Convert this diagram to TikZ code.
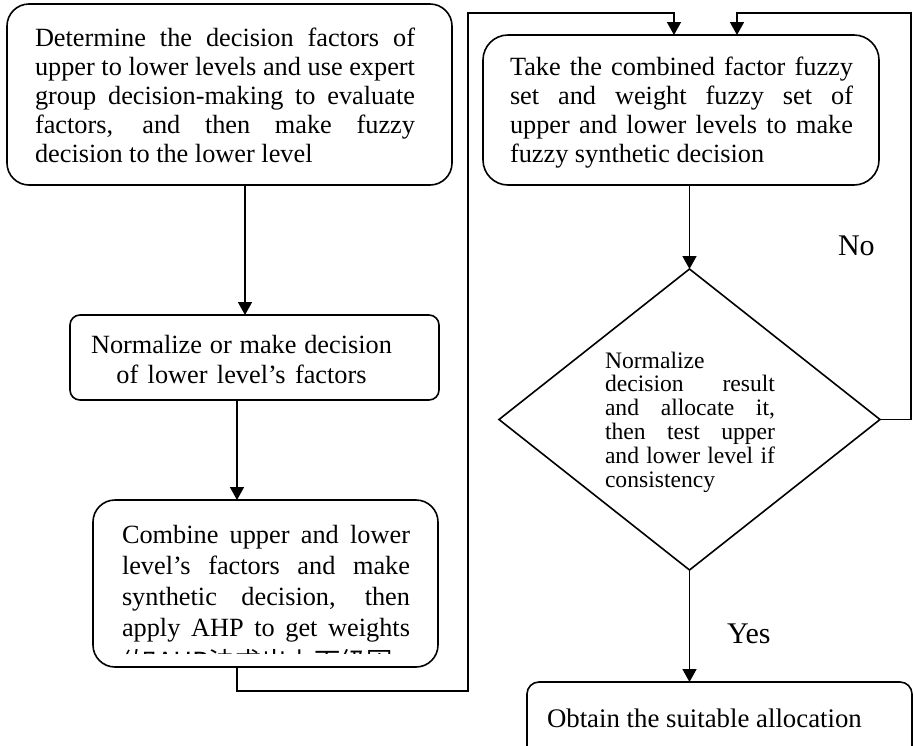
\documentclass[tikz,border=0pt]{standalone}
\usepackage{fontspec}
\setmainfont{Liberation Serif}
\newfontfamily\cjkfont{Noto Sans CJK SC}
\usetikzlibrary{arrows.meta,shapes.geometric}

% a line stretched to the full justified width
\newcommand{\fitline}[2]{\makebox[#1][s]{#2}}
% fixes the height of the first line of a text block
\newcommand{\firststrut}{\rule{0pt}{20pt}}
% use the font's own stretchable interword space
\newcommand{\fontspaces}{\spaceskip=0pt\relax\xspaceskip=0pt\relax}

\begin{document}
\begin{tikzpicture}[x=1pt,y=-1pt,
  every node/.style={inner sep=0pt, outer sep=0pt},
  box/.style={draw, line width=1.6pt, rounded corners=#1},
  box/.default=22pt,
  body/.style={anchor=north west, align=justify},
  arr/.style={line width=1.6pt, -{Triangle[length=13pt,width=14pt]}}]

\useasboundingbox (0,0) rectangle (913,745);

% process boxes and the decision diamond
\node[box=22pt, minimum width=445pt, minimum height=181pt] (b1) at (229.5,94.5) {};
\node[box=10pt, minimum width=369pt, minimum height=85pt] (b2) at (254.5,357.5) {};
\node[box=22pt, minimum width=345pt, minimum height=167pt] (b3) at (265.5,583.5) {};
\node[box=25pt, minimum width=396pt, minimum height=150pt] (b4) at (681,110) {};
\node[draw, diamond, line width=1.6pt, minimum width=381pt, minimum height=301pt] (dec) at (689.5,419.5) {};
\node[box=12pt, minimum width=385pt, minimum height=90pt] (b5) at (719.5,727) {};

% texts
\node[body, text width=380pt, font=\fontsize{26.3}{29.1}\selectfont] (t1) at (35,26.5)
  {\fontspaces\firststrut\fitline{380pt}{Determine the decision factors of}\\
   \fitline{380pt}{upper to lower levels and use expert}\\
   \fitline{380pt}{group decision-making to evaluate}\\
   \fitline{380pt}{factors, and then make fuzzy}\\
   \makebox[380pt][l]{decision to the lower level}};

\node[anchor=north, text width=340pt, align=center, font=\fontsize{26.3}{30}\selectfont] (t2) at (241.5,333)
  {\fontspaces\firststrut Normalize or make decision\\ of lower level’s factors};

\node[body, text width=288pt, font=\fontsize{26.3}{31}\selectfont] (t3) at (122,523.3)
  {\fontspaces\firststrut\fitline{288pt}{Combine upper and lower}\\
   \fitline{288pt}{level’s factors and make}\\
   \fitline{288pt}{synthetic decision, then}\\
   \fitline{288pt}{apply AHP to get weights}};

\begin{scope}
  \clip (93,640) rectangle (438,653);
  \node[anchor=base west, font=\fontsize{26.3}{31}\selectfont] (t3b) at (122,671)
    {\cjkfont (如AHP法求出上下级因};
\end{scope}

\node[body, text width=343pt, font=\fontsize{26.3}{29}\selectfont] (t4) at (510,55)
  {\fontspaces\firststrut\fitline{343pt}{Take the combined factor fuzzy}\\
   \fitline{343pt}{set and weight fuzzy set of}\\
   \fitline{343pt}{upper and lower levels to make}\\
   \makebox[343pt][l]{fuzzy synthetic decision}};

\node[body, text width=170pt, font=\fontsize{23.6}{23.8}\selectfont] (td) at (605,348)
  {\fontspaces\firststrut\makebox[170pt][l]{Normalize}\\
   \fitline{170pt}{decision result}\\
   \fitline{170pt}{and allocate it,}\\
   \fitline{170pt}{then test upper}\\
   \fitline{170pt}{and lower level if}\\
   \makebox[170pt][l]{consistency}};

\node[anchor=base west, font=\fontsize{26.8}{30}\selectfont] (t5) at (547,727) {Obtain the suitable allocation};

\node[anchor=base west, font=\fontsize{30}{30}\selectfont] (no) at (838,255) {No};
\node[anchor=base west, font=\fontsize{30}{30}\selectfont] (yes) at (727,643) {Yes};

% connectors
\coordinate (c1) at (468,691);
\coordinate (c2) at (468,13);
\coordinate (c3) at (911,13);

\draw[arr] ([xshift=15.5pt]b1.south) -- ([xshift=-9.5pt]b2.north);
\draw[arr] ([xshift=-17.5pt]b2.south) -- ([xshift=-28.5pt]b3.north);
\draw[arr] ([xshift=-28.5pt]b3.south) |- (c1) -- (c2) -| ([xshift=-7pt]b4.north);
\draw[arr] ([xshift=8.5pt]b4.south) -- (dec.north);
\draw[arr] (dec.east) -| (c3) -| ([xshift=56pt]b4.north);
\draw[arr] (dec.south) -- (dec.south |- b5.north);

\end{tikzpicture}
\end{document}
